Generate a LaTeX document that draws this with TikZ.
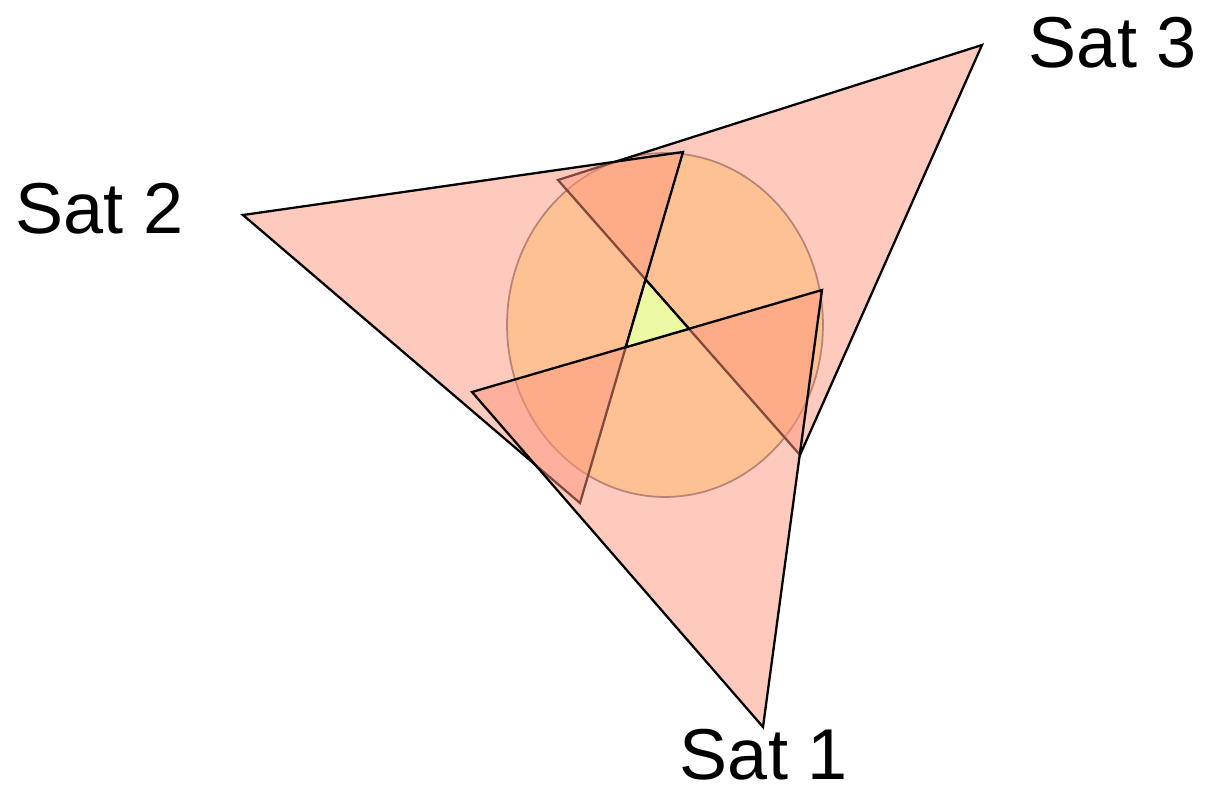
\documentclass[tikz,border=0pt]{standalone}
\usepackage{fontspec}
\setmainfont{Liberation Sans}
\definecolor{beamred}{RGB}{255,150,125}
\definecolor{coveryellow}{RGB}{252,238,172}
\definecolor{fixgreen}{RGB}{236,248,162}
\tikzset{
	beam/.style={fill=beamred, fill opacity=0.5, draw=black, line width=1.3pt, line join=miter},
	satlabel/.style={font=\fontsize{41}{48}\selectfont, inner sep=0pt}
}
\begin{document}
\begin{tikzpicture}[x=0.02cm,y=-0.02cm]
		\useasboundingbox (0,0) rectangle (1205,794);

		% Satellites and the far corners of their beams
		\coordinate (s1) at (763,727);
		\coordinate (s2) at (243,215);
		\coordinate (s3) at (982,45);
		\coordinate (b1a) at (472,392);
		\coordinate (b1b) at (822,290);
		\coordinate (b2a) at (683,152);
		\coordinate (b2b) at (580,503);
		\coordinate (b3a) at (558,180);
		\coordinate (b3b) at (800,455);

		% Coverage circle
		\draw[draw=gray!90!black, line width=1pt, fill=coveryellow] (665,325) ellipse [x radius=3.16cm, y radius=3.44cm];

		% Beams, drawn from Sat 3 to Sat 1
		\draw[beam] (s3) -- (b3a) -- (b3b) -- cycle;
		\draw[beam] (s2) -- (b2a) -- (b2b) -- cycle;
		\draw[beam] (s1) -- (b1a) -- (b1b) -- cycle;

		% Region seen by all three
		\coordinate (c1) at (intersection of b2a--b2b and b3a--b3b);
		\coordinate (c2) at (intersection of b3a--b3b and b1a--b1b);
		\coordinate (c3) at (intersection of b1a--b1b and b2a--b2b);
		\draw[fill=fixgreen, line width=1.3pt] (c1) -- (c2) -- (c3) -- cycle;

		% Labels
		\node[satlabel] (lab1) at (764,755) {Sat 1};
		\node[satlabel] (lab2) at (100,209) {Sat 2};
		\node[satlabel] (lab3) at (1113,43) {Sat 3};
	\end{tikzpicture}
\end{document}
